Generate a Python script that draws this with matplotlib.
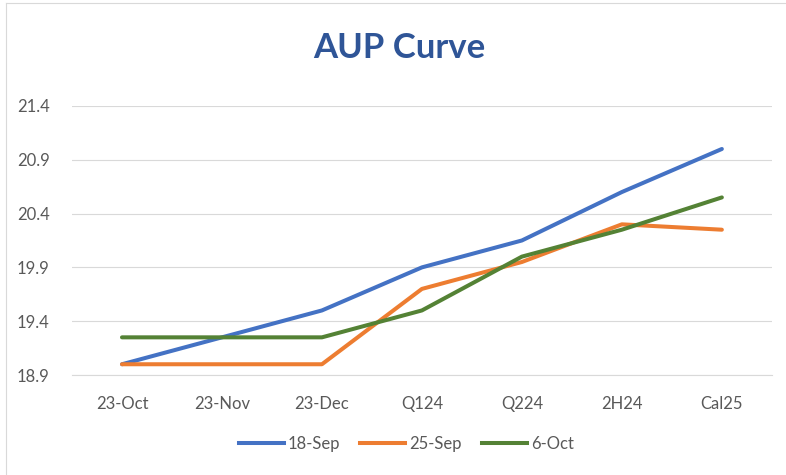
import matplotlib.pyplot as plt
from matplotlib.lines import Line2D

# AUP forward curve, three snapshot dates
periods = ["23-Oct", "23-Nov", "23-Dec", "Q124", "Q224", "2H24", "Cal25"]
sep18 = [19.0, 19.25, 19.5, 19.9, 20.15, 20.6, 21.0]
sep25 = [19.0, 19.0, 19.0, 19.7, 19.95, 20.3, 20.25]
oct6 = [19.25, 19.25, 19.25, 19.5, 20.0, 20.25, 20.55]
yticks = [18.9, 19.4, 19.9, 20.4, 20.9, 21.4]

plt.rcParams['font.family'] = ['Lato', 'DejaVu Sans']

fig = plt.figure(figsize=(7.86, 4.75), dpi=100)
ax = fig.add_axes([0.0916, 0.2105, 0.8904, 0.5665])

x = range(len(periods))
ax.plot(x, sep18, color="#4472C4", lw=2.9, label="18-Sep", solid_capstyle="round")
ax.plot(x, sep25, color="#ED7D31", lw=2.9, label="25-Sep", solid_capstyle="round")
ax.plot(x, oct6, color="#548235", lw=2.9, label="6-Oct", solid_capstyle="round")

ax.set_xlim(-0.5, len(periods) - 0.5)
ax.set_ylim(18.9, 21.4)
ax.set_yticks(yticks)
ax.set_yticklabels([f"{v:.1f}" for v in yticks])
ax.set_xticks(list(x))
ax.set_xticklabels(periods)
ax.grid(axis="y", color="#D9D9D9", lw=0.8)
ax.set_axisbelow(True)
for s in ["top", "right", "left"]:
    ax.spines[s].set_visible(False)
ax.spines["bottom"].set_color("#D9D9D9")
ax.spines["bottom"].set_linewidth(0.8)
ax.tick_params(length=0, colors="#595959", labelsize=12)
ax.tick_params(axis="y", pad=16)
ax.tick_params(axis="x", pad=15)

fig.text(0.508, 0.9, "AUP Curve", ha="center", va="center",
         fontsize=25, fontweight="bold", color="#2F5597")

handles = [Line2D([], [], color=c, lw=2.9) for c in ["#4472C4", "#ED7D31", "#548235"]]
fig.legend(handles, ["18-Sep", "25-Sep", "6-Oct"], loc="center",
           bbox_to_anchor=(0.517, 0.066), ncol=3, frameon=False,
           fontsize=12, handlelength=2.7, handletextpad=0.25, columnspacing=1.2,
           labelcolor="#595959")

fig.add_artist(Line2D([0.007, 0.007], [0.0, 0.994], color="#D9D9D9", lw=0.8,
                      transform=fig.transFigure))
fig.add_artist(Line2D([0.007, 1.0], [0.994, 0.994], color="#D9D9D9", lw=0.8,
                      transform=fig.transFigure))

fig.savefig("out.png", dpi=100)
